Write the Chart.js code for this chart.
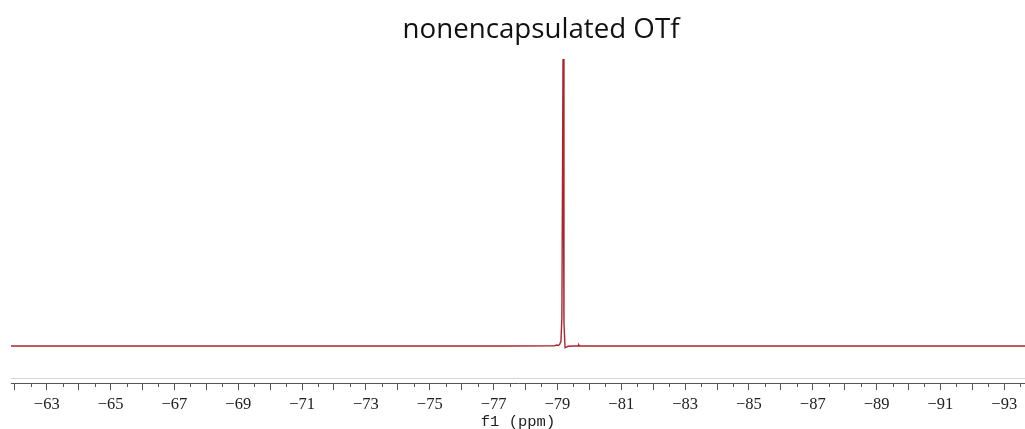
<!DOCTYPE html>
<html>
<head>
<meta charset="utf-8">
<script src="https://cdn.jsdelivr.net/npm/chart.js@4/dist/chart.umd.min.js"></script>
<style>
  html, body { margin: 0; padding: 0; background: #fff; }
  #wrap { position: relative; width: 1025px; height: 429px; }
</style>
</head>
<body>
<div id="wrap"><canvas id="spec" width="1025" height="429"></canvas></div>
<script>
// 19F spectrum, chemical shift (ppm) and relative intensity
const shifts = [
  -61.88, -66.0, -70.0, -74.0, -77.5, -78.90, -78.98, -79.03, -79.07, -79.11,
  -79.14, -79.175, -79.205, -79.24, -79.28, -79.33, -79.50, -79.645, -79.667,
  -79.69, -82.0, -86.0, -90.0, -93.65
];
const intensity = [
  0, 0, 0, 0, 0, 0.05, 0.35, 0.2, 0.6, 1.5,
  10, 100, 8, -0.6, -0.4, -0.1, 0, 0, 0.4,
  0, 0, 0, 0, 0
];

const chartTitle = 'nonencapsulated OTf';
const axisTitle = 'f1 (ppm)';
const labelledTicks = [-63, -65, -67, -69, -71, -73, -75, -77, -79, -81, -83, -85, -87, -89, -91, -93];

const points = shifts.map((x, i) => ({ x, y: intensity[i] }));

// frame line above the axis, minor half-ppm ticks and the chart title
const decorations = {
  id: 'decorations',
  afterDraw(chart) {
    const { ctx, chartArea } = chart;
    const xs = chart.scales.x;
    ctx.save();
    ctx.strokeStyle = '#d4d4d4';
    ctx.lineWidth = 1;
    ctx.beginPath();
    ctx.moveTo(chartArea.left, chartArea.bottom - 4.5);
    ctx.lineTo(chartArea.right, chartArea.bottom - 4.5);
    ctx.stroke();

    ctx.strokeStyle = '#555';
    ctx.beginPath();
    for (let v = Math.ceil(xs.min) - 0.5; v < xs.max; v += 1) {
      const px = Math.round(xs.getPixelForValue(v)) + 0.5;
      ctx.moveTo(px, chartArea.bottom);
      ctx.lineTo(px, chartArea.bottom + 4);
    }
    ctx.stroke();

    ctx.fillStyle = '#111';
    ctx.font = '27.7px "Open Sans"';
    ctx.textAlign = 'center';
    ctx.textBaseline = 'middle';
    ctx.fillText(chartTitle, 541, 30);
    ctx.restore();
  }
};

new Chart(document.getElementById('spec'), {
  type: 'line',
  data: {
    datasets: [{
      data: points,
      borderColor: '#a8262c',
      borderWidth: 1.4,
      pointRadius: 0,
      tension: 0,
      fill: false
    }]
  },
  options: {
    responsive: false,
    animation: false,
    events: [],
    layout: { padding: { left: 11, right: 0, top: 59, bottom: 0 } },
    plugins: { legend: { display: false }, tooltip: { enabled: false }, title: { display: false } },
    scales: {
      x: {
        type: 'linear',
        reverse: true,
        min: -93.65,
        max: -61.88,
        afterFit(scale) { scale.height = 46; },
        border: { display: true, color: '#555', width: 1 },
        grid: { drawOnChartArea: false, drawTicks: true, tickLength: 7, color: '#555' },
        ticks: {
          stepSize: 1,
          includeBounds: false,
          autoSkip: false,
          maxRotation: 0,
          padding: 6,
          color: '#222',
          font: { family: '"Liberation Serif"', size: 16.5, lineHeight: 1 },
          callback(value) {
            return labelledTicks.includes(value) ? '\u2212' + Math.abs(value) : '';
          }
        },
        title: {
          display: true,
          text: axisTitle,
          color: '#222',
          padding: { top: 0, bottom: -1, left: 8, right: 0 },
          font: { family: '"Liberation Mono"', size: 15.5, lineHeight: 1 }
        }
      },
      y: {
        display: false,
        min: -12.9,
        max: 100
      }
    }
  },
  plugins: [decorations]
});
</script>
</body>
</html>
